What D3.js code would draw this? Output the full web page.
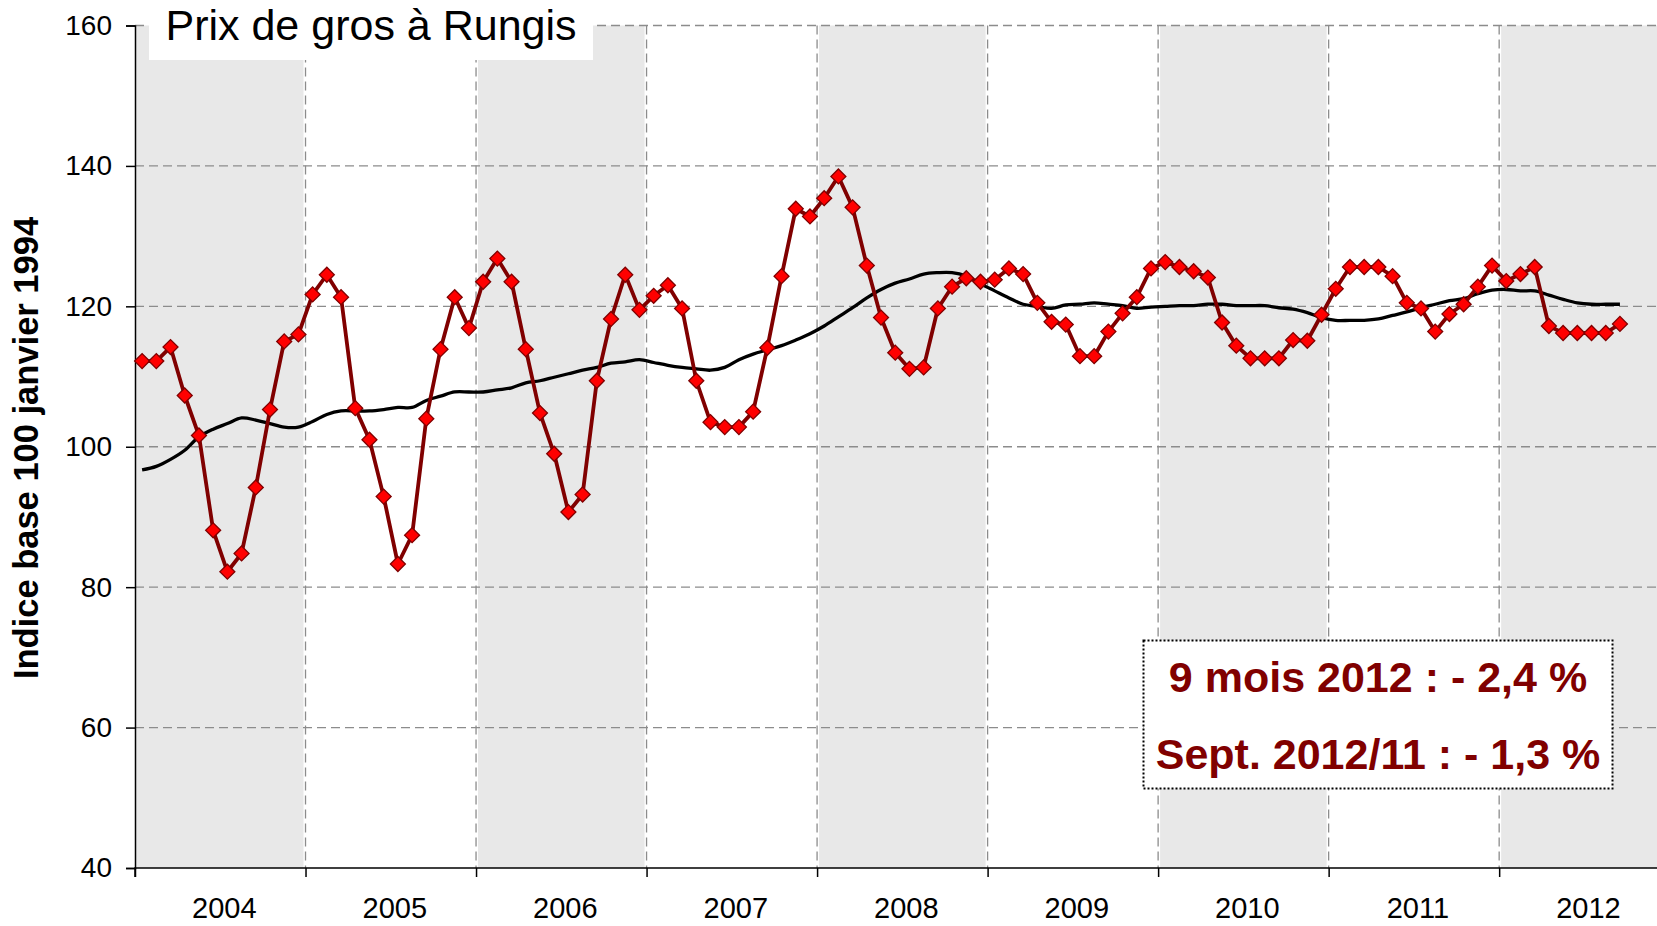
<!DOCTYPE html>
<html>
<head>
<meta charset="utf-8">
<script src="https://cdn.jsdelivr.net/npm/d3@7"></script>
<style>
  body { margin: 0; background: #fff; }
  svg { display: block; font-family: 'Liberation Sans', Arial, sans-serif; }
</style>
</head>
<body>
<div id="chart-area"></div>
<script>
// categories: one band per year
const years = ['2004', '2005', '2006', '2007', '2008', '2009', '2010', '2011', '2012'];

// monthly wholesale price index, Jan 2004 -> Sept 2012
const prix = [
  112.2, 112.2, 114.2, 107.3, 101.6, 88.1, 82.2, 84.8, 94.2, 105.3, 115.0, 116.0,
  121.7, 124.5, 121.3, 105.5, 101.0, 92.9, 83.3, 87.4, 104.0, 113.9, 121.3, 116.9,
  123.5, 126.8, 123.5, 113.9, 104.8, 99.0, 90.7, 93.2, 109.4, 118.2, 124.5, 119.5,
  121.5, 123.0, 119.7, 109.4, 103.5, 102.8, 102.8, 105.0, 114.1, 124.3, 133.9, 132.8,
  135.4, 138.5, 134.1, 125.8, 118.4, 113.4, 111.1, 111.3, 119.7, 122.8, 124.0, 123.5,
  123.8, 125.4, 124.6, 120.5, 117.8, 117.4, 112.9, 112.9, 116.4, 119.0, 121.3, 125.4,
  126.3, 125.6, 125.0, 124.1, 117.7, 114.4, 112.6, 112.6, 112.6, 115.2, 115.1, 118.8,
  122.5, 125.6, 125.6, 125.6, 124.3, 120.5, 119.7, 116.4, 118.9, 120.3, 122.8, 125.8,
  123.6, 124.6, 125.6, 117.2, 116.2, 116.2, 116.2, 116.2, 117.5
];

// 12-month moving average (black line)
const moyenne = [
  96.7, 97.2, 98.2, 99.5, 101.4, 102.5, 103.3, 104.1, 103.8, 103.3, 102.8, 102.8,
  103.6, 104.6, 105.1, 105.1, 105.1, 105.3, 105.6, 105.6, 106.6, 107.2, 107.8, 107.8,
  107.8, 108.1, 108.4, 109.1, 109.4, 109.9, 110.4, 110.9, 111.3, 111.9, 112.1, 112.4,
  112.0, 111.6, 111.3, 111.1, 110.9, 111.3, 112.4, 113.2, 113.8, 114.4, 115.2, 116.1,
  117.2, 118.5, 119.8, 121.2, 122.4, 123.3, 123.9, 124.6, 124.8, 124.8, 124.3, 123.2,
  122.2, 121.2, 120.3, 120.0, 119.7, 120.2, 120.3, 120.5, 120.3, 120.1, 119.7, 119.9,
  120.0, 120.1, 120.1, 120.3, 120.3, 120.1, 120.1, 120.1, 119.8, 119.6, 119.1, 118.4,
  118.0, 118.0, 118.0, 118.2, 118.7, 119.2, 119.8, 120.3, 120.8, 121.1, 121.8, 122.3,
  122.4, 122.2, 122.2, 121.6, 121.0, 120.5, 120.3, 120.3, 120.3
];

// y tick labels
const yTicks = [40, 60, 80, 100, 120, 140, 160];

// text blocks
const titre = 'Prix de gros à Rungis';
const yLabel = 'Indice base 100 janvier 1994';
const notes = ['9 mois 2012 : - 2,4 %', 'Sept. 2012/11 : - 1,3 %'];

const W = 1657, H = 926;
const margin = { left: 135, right: 0, top: 25.5, bottom: H - 868 };
const DARK = '#800000';

const svg = d3.select('#chart-area')
  .append('svg')
  .attr('width', W)
  .attr('height', H);

// one month per unit, nine years on the axis
const x = d3.scaleLinear()
  .domain([0, years.length * 12])
  .range([margin.left, margin.left + years.length * 12 * 14.21]);

const y = d3.scaleLinear()
  .domain([40, 160])
  .range([H - margin.bottom, margin.top]);

// alternating grey year bands
svg.append('g')
  .selectAll('rect')
  .data(years)
  .enter()
  .append('rect')
  .attr('x', (d, i) => x(i * 12) + (i === 0 ? 0 : 2))
  .attr('y', y(160))
  .attr('width', (d, i) => x(12) - x(0) - (i === 0 ? 2 : 4))
  .attr('height', y(40) - y(160))
  .attr('fill', (d, i) => i % 2 === 0 ? '#e8e8e8' : 'none');

// horizontal grid
svg.append('g')
  .selectAll('line')
  .data(yTicks.filter(d => d > 40))
  .enter()
  .append('line')
  .attr('x1', margin.left)
  .attr('x2', W)
  .attr('y1', d => y(d))
  .attr('y2', d => y(d))
  .attr('stroke', '#8c8c8c')
  .attr('stroke-width', 1.3)
  .attr('stroke-dasharray', '9,5');

// vertical grid at year boundaries
svg.append('g')
  .selectAll('line')
  .data(years.slice(1))
  .enter()
  .append('line')
  .attr('x1', (d, i) => x((i + 1) * 12))
  .attr('x2', (d, i) => x((i + 1) * 12))
  .attr('y1', y(160))
  .attr('y2', y(40))
  .attr('stroke', '#8c8c8c')
  .attr('stroke-width', 1.3)
  .attr('stroke-dasharray', '9,5');

// y axis
const yAxisCall = d3.axisLeft(y)
  .tickValues(yTicks)
  .tickSize(9)
  .tickPadding(14);
const yAxis = svg.append('g')
  .attr('transform', 'translate(' + margin.left + ', 0)')
  .call(yAxisCall);
yAxis.select('.domain').attr('stroke', '#000').attr('stroke-width', 1.5);
yAxis.selectAll('line').attr('stroke', '#000').attr('stroke-width', 1.5);
yAxis.selectAll('text')
  .attr('font-size', '28px')
  .attr('font-family', 'Liberation Sans, Arial, sans-serif')
  .attr('fill', '#000');

// x axis: ticks at year boundaries, labels centred in each year
const xAxisCall = d3.axisBottom(x)
  .tickValues(d3.range(0, years.length * 12, 12))
  .tickSize(9)
  .tickFormat('');
const xAxis = svg.append('g')
  .attr('transform', 'translate(0, ' + y(40) + ')')
  .call(xAxisCall);
xAxis.select('.domain').attr('stroke', '#000').attr('stroke-width', 1.5)
  .attr('d', 'M' + margin.left + ',9V0H' + W);
xAxis.selectAll('line').attr('stroke', '#000').attr('stroke-width', 1.5);

svg.append('g')
  .selectAll('text')
  .data(years)
  .enter()
  .append('text')
  .attr('x', (d, i) => x(i * 12 + 6) + 4)
  .attr('y', 918)
  .attr('font-size', '29px')
  .attr('text-anchor', 'middle')
  .text(d => d);

// y axis title
svg.append('text')
  .attr('transform', 'translate(38, ' + 448 + ') rotate(-90)')
  .attr('font-size', '34.5px')
  .attr('font-weight', 'bold')
  .attr('text-anchor', 'middle')
  .text(yLabel);

// moving average
const avgLine = d3.line()
  .x((d, i) => x(i + 0.5))
  .y(d => y(d))
  .curve(d3.curveCatmullRom);

svg.append('path')
  .datum(moyenne)
  .attr('d', avgLine)
  .attr('fill', 'none')
  .attr('stroke', '#000')
  .attr('stroke-width', 3.3);

// monthly prices
const priceLine = d3.line()
  .x((d, i) => x(i + 0.5))
  .y(d => y(d));

svg.append('path')
  .datum(prix)
  .attr('d', priceLine)
  .attr('fill', 'none')
  .attr('stroke', DARK)
  .attr('stroke-width', 3.8)
  .attr('stroke-linejoin', 'round');

const diamond = d3.symbol().type(d3.symbolSquare).size(112);
svg.append('g')
  .selectAll('path')
  .data(prix)
  .enter()
  .append('path')
  .attr('d', diamond)
  .attr('transform', (d, i) => 'translate(' + x(i + 0.5) + ',' + y(d) + ') rotate(45)')
  .attr('fill', '#ff0000')
  .attr('stroke', DARK)
  .attr('stroke-width', 1.3);

// title in a white box
svg.append('rect')
  .attr('x', 149)
  .attr('y', 0)
  .attr('width', 444)
  .attr('height', 60)
  .attr('fill', '#fff');
svg.append('text')
  .attr('x', 371)
  .attr('y', 40)
  .attr('font-size', '43px')
  .attr('text-anchor', 'middle')
  .text(titre);

// annotation box
svg.append('rect')
  .attr('x', 1143.5)
  .attr('y', 640.5)
  .attr('width', 469)
  .attr('height', 148)
  .attr('fill', '#fff')
  .attr('stroke', '#000')
  .attr('stroke-width', 2)
  .attr('stroke-dasharray', '2,2');

svg.append('g')
  .selectAll('text')
  .data(notes)
  .enter()
  .append('text')
  .attr('x', 1378)
  .attr('y', (d, i) => 692 + i * 76.5)
  .attr('font-size', '43px')
  .attr('font-weight', 'bold')
  .attr('text-anchor', 'middle')
  .attr('fill', DARK)
  .text(d => d);
</script>
</body>
</html>
